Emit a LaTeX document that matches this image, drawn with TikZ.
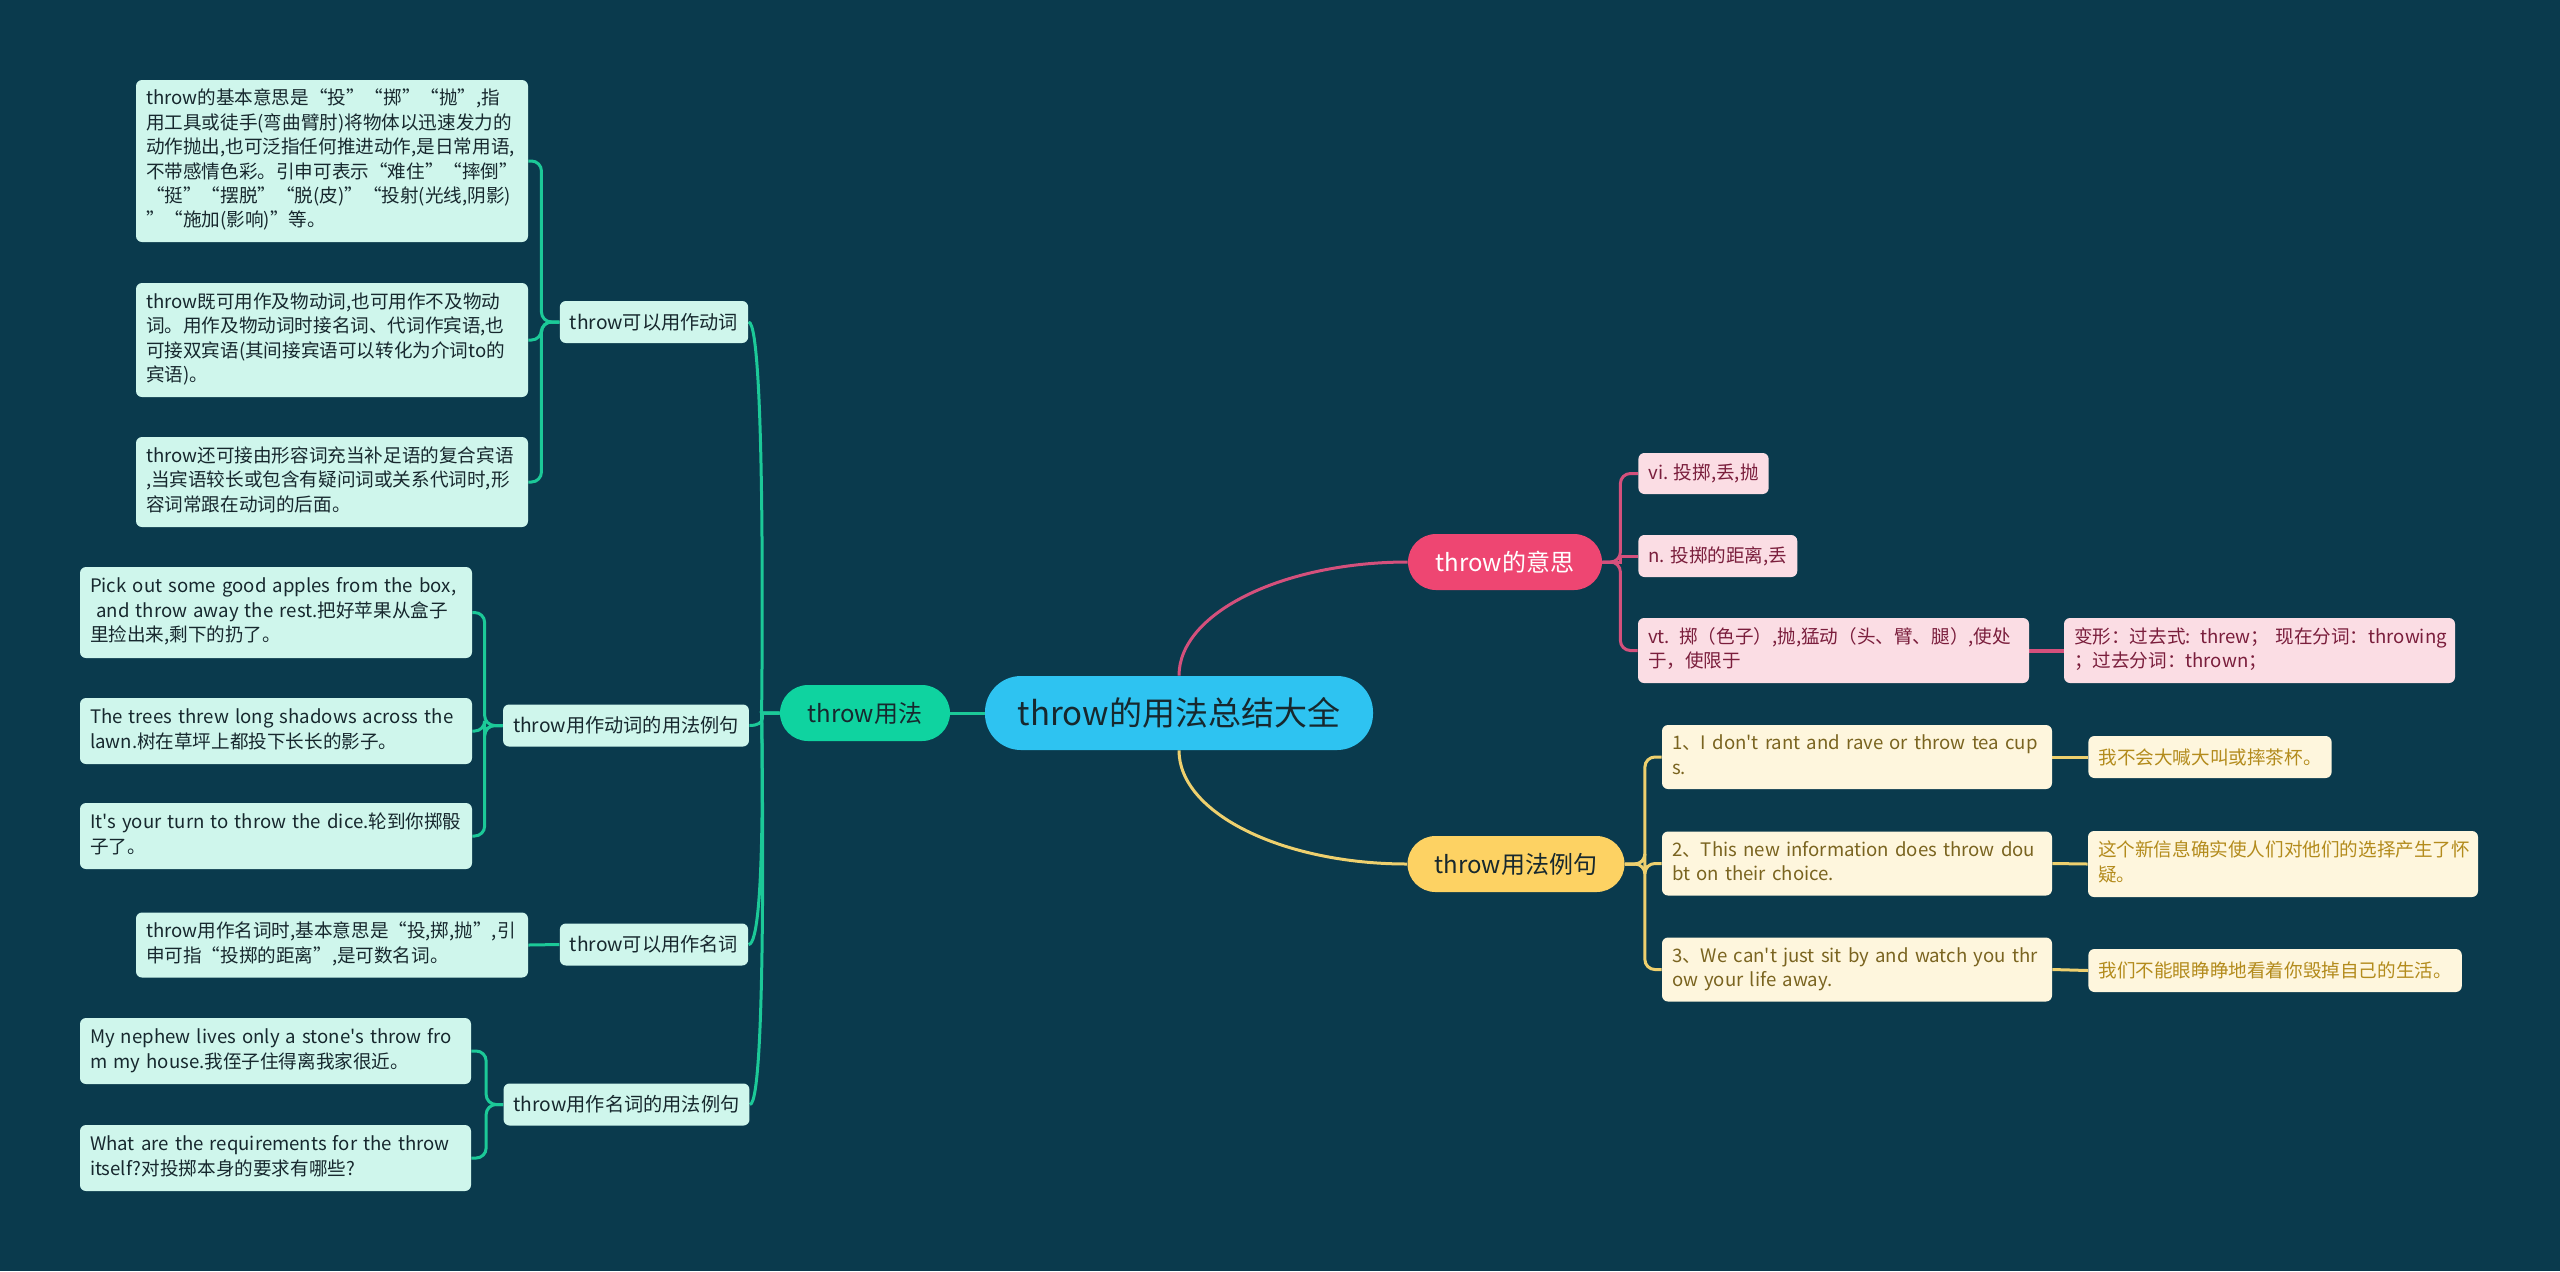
\documentclass[tikz,border=0pt]{standalone}
\usepackage{fontspec}
\newfontfamily\cnfont{Noto Sans CJK SC}
\usetikzlibrary{backgrounds}

\definecolor{bgc}{HTML}{0A3A4D}
\definecolor{rootc}{HTML}{2EC3F1}
\definecolor{greenc}{HTML}{0FD3A0}
\definecolor{glinec}{HTML}{1CC998}
\definecolor{mintc}{HTML}{CFF6EC}
\definecolor{inkc}{HTML}{17282E}
\definecolor{pinkc}{HTML}{EE4672}
\definecolor{plinec}{HTML}{D4507C}
\definecolor{pfillc}{HTML}{FBDDE4}
\definecolor{ptextc}{HTML}{7A1E3C}
\definecolor{yellowc}{HTML}{FDD263}
\definecolor{ylinec}{HTML}{EED06E}
\definecolor{yfillc}{HTML}{FEF6DD}
\definecolor{ytextc}{HTML}{7A6420}
\definecolor{ytextlc}{HTML}{B38B1C}

% lines of a box, never broken
\newcommand\rows[1]{\begin{tabular}{@{}l@{}}#1\end{tabular}}

\tikzset{
  topic/.style={rounded corners=14pt, minimum height=28pt, inner xsep=8pt,
    font=\fontsize{12}{14}\cnfont},
  sub/.style={fill=mintc, text=inkc, rounded corners=3pt, minimum height=21pt,
    inner xsep=5pt, font=\fontsize{9.6}{12}\cnfont},
  leaf/.style={rounded corners=3pt, inner xsep=5pt, inner ysep=2pt, align=left,
    font=\fontsize{9.3}{12.2}\cnfont},
  mleaf/.style={leaf, fill=mintc, text=inkc},
  pleaf/.style={leaf, fill=pfillc, text=ptextc},
  yleaf/.style={leaf, fill=yfillc, text=ytextc},
  tleaf/.style={leaf, fill=yfillc, text=ytextlc},
  % connectors
  gline/.style={draw=glinec, line width=1.5pt},
  pline/.style={draw=plinec, line width=1.5pt},
  yline/.style={draw=ylinec, line width=1.5pt},
  lbracket/.style={rounded corners=5pt, to path={-- ++(-#1,0) |- (\tikztotarget)}},
  rbracket/.style={rounded corners=5pt, to path={-- ++(#1,0) |- (\tikztotarget)}},
  lcurve/.style={to path={-- ++(-18,0) .. controls +(0,0) and +(18,0) .. (\tikztotarget)}},
}

\begin{document}
\begin{tikzpicture}[x=0.5pt, y=-0.5pt]
\useasboundingbox (0,0) rectangle (2560,1271);

% centre and main topics
\node[topic, fill=rootc, text=inkc, minimum width=194pt, minimum height=37pt,
  rounded corners=18pt, font=\fontsize{16.5}{18}\cnfont] (root) at (1179,713) {throw的用法总结大全};
\node[topic, fill=greenc, text=inkc, minimum width=85pt] (use) at (865,713) {throw用法};
\node[topic, fill=pinkc, text=white, minimum width=97pt] (mean) at (1505,562) {throw的意思};
\node[topic, fill=yellowc, text=inkc, minimum width=108.5pt] (ex) at (1516,864) {throw用法例句};

% left side
\node[sub, minimum width=91pt] (verb) at (654,322) {throw可以用作动词};
\node[sub, minimum width=119pt] (verbex) at (626,725.5) {throw用作动词的用法例句};
\node[sub, minimum width=92pt] (noun) at (654,944.5) {throw可以用作名词};
\node[sub, minimum width=119.5pt] (nounex) at (626.5,1104.5) {throw用作名词的用法例句};

\node[mleaf, text width=186pt, minimum height=81pt] (v1) at (332,161) {\rows{throw的基本意思是“投”“掷”“抛”,指\\用工具或徒手(弯曲臂肘)将物体以迅速发力的\\动作抛出,也可泛指任何推进动作,是日常用语,\\不带感情色彩。引申可表示“难住”“摔倒”\\“挺”“摆脱”“脱(皮)”“投射(光线,阴影)\\”“施加(影响)”等。}};
\node[mleaf, text width=186pt, minimum height=57pt] (v2) at (332,340) {\rows{throw既可用作及物动词,也可用作不及物动\\词。用作及物动词时接名词、代词作宾语,也\\可接双宾语(其间接宾语可以转化为介词to的\\宾语)。}};
\node[mleaf, text width=186pt, minimum height=45pt] (v3) at (332,482) {\rows{throw还可接由形容词充当补足语的复合宾语\\,当宾语较长或包含有疑问词或关系代词时,形\\容词常跟在动词的后面。}};

\node[mleaf, text width=186pt, minimum height=45.5pt] (s1) at (276,612.5) {\rows{Pick out some good apples from the box,\\ \ and throw away the rest.把好苹果从盒子\\里捡出来,剩下的扔了。}};
\node[mleaf, text width=186pt, minimum height=33pt] (s2) at (276,731) {\rows{The trees threw long shadows across the\\lawn.树在草坪上都投下长长的影子。}};
\node[mleaf, text width=186pt, minimum height=33pt] (s3) at (276,836) {\rows{It's your turn to throw the dice.轮到你掷骰\\子了。}};

\node[mleaf, text width=186pt, minimum height=32.5pt] (n1) at (332,945) {\rows{throw用作名词时,基本意思是“投,掷,抛”,引\\申可指“投掷的距离”,是可数名词。}};

\node[mleaf, text width=185.5pt, minimum height=33pt] (ns1) at (275.5,1051) {\rows{My nephew lives only a stone's throw fro\\m my house.我侄子住得离我家很近。}};
\node[mleaf, text width=185.5pt, minimum height=33pt] (ns2) at (275.5,1158) {\rows{What are the requirements for the throw\\itself?对投掷本身的要求有哪些?}};

% right side, meanings
\node[pleaf, anchor=west, minimum height=20.5pt] (p1) at (1638,473.5) {vi. 投掷,丢,抛};
\node[pleaf, anchor=west, minimum height=21pt] (p2) at (1638,556) {n. 投掷的距离,丢};
\node[pleaf, text width=185.5pt, minimum height=32.5pt] (p3) at (1833.5,650.5) {\rows{vt. 掷（色子）,抛,猛动（头、臂、腿）,使处\\于，使限于}};
\node[pleaf, text width=185.5pt, minimum height=32.5pt] (p4) at (2259.5,650.5) {\rows{变形：过去式: threw； 现在分词：throwing\\；过去分词：thrown；}};

% right side, examples
\node[yleaf, text width=185pt, minimum height=32pt] (y1) at (1857,757) {\rows{1、I don't rant and rave or throw tea cup\\s.}};
\node[yleaf, text width=185pt, minimum height=32pt] (y2) at (1857,863.5) {\rows{2、This new information does throw dou\\bt on their choice.}};
\node[yleaf, text width=185pt, minimum height=32pt] (y3) at (1857,969.5) {\rows{3、We can't just sit by and watch you thr\\ow your life away.}};
\node[tleaf, anchor=west, minimum height=21pt] (t1) at (2088,757) {我不会大喊大叫或摔茶杯。};
\node[tleaf, text width=185pt, minimum height=33pt] (t2) at (2283,864) {\rows{这个新信息确实使人们对他们的选择产生了怀\\疑。}};
\node[tleaf, anchor=west, minimum height=21.5pt] (t3) at (2088,970.5) {我们不能眼睁睁地看着你毁掉自己的生活。};

\begin{scope}[on background layer]
\fill[bgc] (0,0) rectangle (2560,1271);

% centre links
\draw[gline] (root.west) -- (use.east);
\draw[pline] (root.north) .. controls +(0,-63) and +(-124,0) .. (mean.west);
\draw[yline] (root.south) .. controls +(0,63) and +(-124,0) .. (ex.west);

% throw用法
\foreach \k in {verb,verbex,noun,nounex}
  \draw[gline] (use.west) to[lcurve] (\k.east);
\foreach \k in {v1,v2,v3}
  \draw[gline] (verb.west) to[lbracket=18] (\k.east);
\foreach \k in {s1,s2,s3}
  \draw[gline] (verbex.west) to[lbracket=18] (\k.east);
\draw[gline] (noun.west) -- (n1.east);
\foreach \k in {ns1,ns2}
  \draw[gline] (nounex.west) to[lbracket=17] (\k.east);

% throw的意思
\foreach \k in {p1,p3}
  \draw[pline] (mean.east) to[rbracket=18] (\k.west);
\draw[pline] (mean.east) -- ++(18,0) |- (p2.west);
\draw[pline, line width=2pt] (p3.east) -- (p4.west);

% throw用法例句
\foreach \k in {y1,y2,y3}
  \draw[yline] (ex.east) to[rbracket=20] (\k.west);
\draw[yline] (y1.east) -- (t1.west);
\draw[yline] (y2.east) -- (t2.west);
\draw[yline] (y3.east) -- (t3.west);
\end{scope}
\end{tikzpicture}
\end{document}
